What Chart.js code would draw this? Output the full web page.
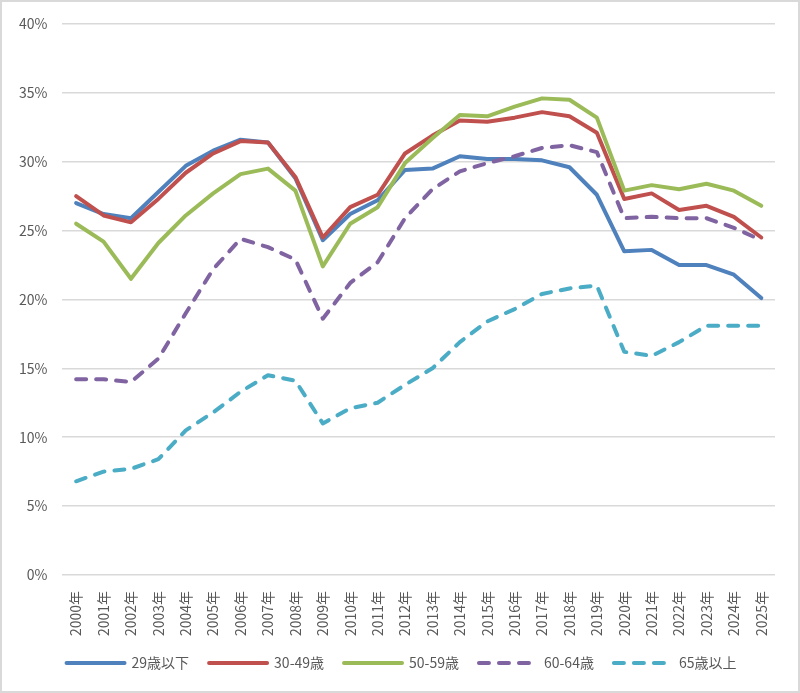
<!DOCTYPE html>
<html lang="ja">
<head>
    <meta charset="UTF-8">
    <title>年齢階級別の推移</title>
    <script src="https://cdn.jsdelivr.net/npm/chart.js@4"></script>
    <style>
        html, body {
            margin: 0;
            padding: 0;
            background: #fff;
        }
        .chart-box {
            width: 800px;
            height: 693px;
            box-sizing: border-box;
            border: 2px solid #d9d9d9;
        }
    </style>
</head>
<body>
    <div class="chart-box">
        <canvas id="trend-chart" width="796" height="689"></canvas>
    </div>

    <script>
        // データ (%)
        const years = ['2000年', '2001年', '2002年', '2003年', '2004年', '2005年', '2006年', '2007年', '2008年',
            '2009年', '2010年', '2011年', '2012年', '2013年', '2014年', '2015年', '2016年', '2017年',
            '2018年', '2019年', '2020年', '2021年', '2022年', '2023年', '2024年', '2025年'];

        const under29 = [27.0, 26.2, 25.9, 27.8, 29.7, 30.8, 31.6, 31.4, 28.8, 24.3, 26.2, 27.2, 29.4,
            29.5, 30.4, 30.2, 30.2, 30.1, 29.6, 27.6, 23.5, 23.6, 22.5, 22.5, 21.8, 20.1];
        const age30to49 = [27.5, 26.1, 25.6, 27.3, 29.2, 30.6, 31.5, 31.4, 28.9, 24.5, 26.7, 27.6, 30.6,
            31.9, 33.0, 32.9, 33.2, 33.6, 33.3, 32.1, 27.3, 27.7, 26.5, 26.8, 26.0, 24.5];
        const age50to59 = [25.5, 24.2, 21.5, 24.1, 26.1, 27.7, 29.1, 29.5, 27.9, 22.4, 25.5, 26.7, 29.9,
            31.7, 33.4, 33.3, 34.0, 34.6, 34.5, 33.2, 27.9, 28.3, 28.0, 28.4, 27.9, 26.8];
        const age60to64 = [14.2, 14.2, 14.0, 15.7, 19.0, 22.2, 24.4, 23.8, 22.9, 18.6, 21.2, 22.7, 25.9,
            28.0, 29.3, 29.9, 30.4, 31.0, 31.2, 30.7, 25.9, 26.0, 25.9, 25.9, 25.2, 24.3];
        const over65 = [6.8, 7.5, 7.7, 8.4, 10.5, 11.8, 13.3, 14.5, 14.1, 11.0, 12.1, 12.5, 13.8,
            15.0, 16.9, 18.4, 19.3, 20.4, 20.8, 21.0, 16.2, 15.9, 16.9, 18.1, 18.1, 18.1];

        const seriesNames = ['29歳以下', '30-49歳', '50-59歳', '60-64歳', '65歳以上'];
        const seriesData = [under29, age30to49, age50to59, age60to64, over65];
        const seriesColors = ['#4f81bd', '#c0504d', '#9bbb59', '#8064a2', '#4bacc6'];
        const dashed = [false, false, false, true, true];

        const textColor = '#595959';
        const fontFamily = '"Noto Sans CJK JP", "Noto Sans", sans-serif';

        const datasets = seriesNames.map((name, i) => ({
            label: name,
            data: seriesData[i],
            borderColor: seriesColors[i],
            backgroundColor: seriesColors[i],
            borderWidth: 4,
            borderDash: dashed[i] ? [10, 10] : [],
            borderCapStyle: 'round',
            borderJoinStyle: 'round',
            pointRadius: 0,
            pointHoverRadius: 0,
            tension: 0,
            fill: false,
            // 後のシリーズを上に描く
            order: seriesNames.length - i
        }));

        // 凡例の位置を微調整
        const legendShift = {
            id: 'legendShift',
            afterLayout(chart) {
                const lg = chart.legend;
                lg.top -= 16;
                lg.bottom -= 16;
                lg.left += 12;
                lg.right += 12;
            }
        };

        const ctx = document.getElementById('trend-chart').getContext('2d');
        const chart = new Chart(ctx, {
            type: 'line',
            data: {
                labels: years,
                datasets: datasets
            },
            plugins: [legendShift],
            options: {
                responsive: false,
                animation: false,
                devicePixelRatio: 1,
                layout: {
                    padding: { left: 2, right: 23, top: 22, bottom: -5 }
                },
                scales: {
                    x: {
                        offset: true,
                        grid: { display: false, drawTicks: false },
                        border: { display: false },
                        ticks: {
                            color: textColor,
                            font: { family: fontFamily, size: 14 },
                            minRotation: 90,
                            maxRotation: 90,
                            autoSkip: false,
                            padding: 16
                        }
                    },
                    y: {
                        min: 0,
                        max: 40,
                        grid: { color: '#d9d9d9', lineWidth: 1.5, drawTicks: false },
                        border: { display: false },
                        ticks: {
                            stepSize: 5,
                            color: textColor,
                            font: { family: fontFamily, size: 14 },
                            padding: 15,
                            callback: v => v + '%'
                        },
                        // ラベル余白による上端の押し下げを無効化
                        afterFit: scale => {
                            scale.paddingTop = 0;
                        }
                    }
                },
                plugins: {
                    legend: {
                        position: 'bottom',
                        labels: {
                            usePointStyle: true,
                            pointStyle: 'line',
                            pointStyleWidth: 58,
                            color: textColor,
                            font: { family: fontFamily, size: 14 },
                            padding: 20,
                            sort: (a, b) => a.datasetIndex - b.datasetIndex,
                            generateLabels: chart => {
                                const items = Chart.defaults.plugins.legend.labels.generateLabels(chart);
                                items.forEach(item => {
                                    const ds = chart.data.datasets[item.datasetIndex];
                                    item.lineDash = ds.borderDash;
                                    item.lineCap = 'round';
                                    item.lineWidth = ds.borderWidth;
                                    item.strokeStyle = ds.borderColor;
                                });
                                return items;
                            }
                        }
                    },
                    tooltip: { enabled: false }
                }
            }
        });
    </script>
</body>
</html>
